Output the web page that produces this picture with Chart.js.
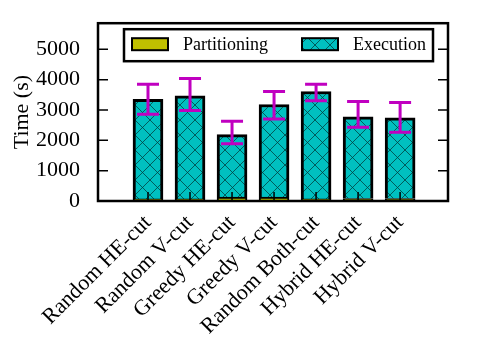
<!DOCTYPE html>
<html>
<head>
<meta charset="utf-8">
<script src="https://cdn.jsdelivr.net/npm/chart.js@4/dist/chart.umd.min.js"></script>
<style>
  html, body { margin: 0; padding: 0; background: #fff; }
  #wrap { width: 498px; height: 341px; }
</style>
</head>
<body>
<div id="wrap"><canvas id="chart" width="498" height="341"></canvas></div>
<script>
// Datos
const categorias = ['Random HE-cut', 'Random V-cut', 'Greedy HE-cut', 'Greedy V-cut',
                    'Random Both-cut', 'Hybrid HE-cut', 'Hybrid V-cut'];
const particion = [70, 70, 130, 130, 70, 80, 80];
const ejecucion = [3280, 3400, 2060, 3050, 3540, 2696, 2664];
const errorAlto = [3846, 4040, 2630, 3610, 3846, 3280, 3250];
const errorBajo = [2862, 2980, 1890, 2700, 3300, 2430, 2265];
const ticksY = [0, 1000, 2000, 3000, 4000, 5000];

const fuente = 'Liberation Serif';

// Patron cuadriculado para Execution
function crearPatron() {
    const c = document.createElement('canvas');
    c.width = 15; c.height = 15;
    const g = c.getContext('2d');
    g.fillStyle = '#00c0c0';
    g.fillRect(0, 0, 15, 15);
    g.strokeStyle = 'rgba(0,60,60,0.85)';
    g.lineWidth = 0.9;
    g.beginPath();
    g.moveTo(0, 0); g.lineTo(15, 15);
    g.moveTo(15, 0); g.lineTo(0, 15);
    g.stroke();
    return document.getElementById('chart').getContext('2d').createPattern(c, 'repeat');
}
const patron = crearPatron();

// Marco, ticks hacia adentro, barras de error y leyenda
const extras = {
    id: 'extras',
    afterDatasetsDraw(chart) {
        const ctx = chart.ctx;
        const a = chart.chartArea;
        const x = chart.scales.x, y = chart.scales.y;
        ctx.save();

        // barras de error
        ctx.strokeStyle = '#c000c0';
        ctx.lineWidth = 3;
        categorias.forEach((c, i) => {
            const px = x.getPixelForValue(i);
            const top = y.getPixelForValue(errorAlto[i]);
            const bot = y.getPixelForValue(errorBajo[i]);
            ctx.beginPath();
            ctx.moveTo(px, top); ctx.lineTo(px, bot);
            ctx.moveTo(px - 11, top); ctx.lineTo(px + 11, top);
            ctx.moveTo(px - 11, bot); ctx.lineTo(px + 11, bot);
            ctx.stroke();
        });

        // ticks
        ctx.strokeStyle = '#000';
        ctx.lineWidth = 1.5;
        ctx.beginPath();
        ticksY.forEach(v => {
            const py = y.getPixelForValue(v);
            ctx.moveTo(a.left, py); ctx.lineTo(a.left + 10, py);
            ctx.moveTo(a.right, py); ctx.lineTo(a.right - 10, py);
        });
        categorias.forEach((c, i) => {
            const px = x.getPixelForValue(i);
            ctx.moveTo(px, a.bottom); ctx.lineTo(px, a.bottom - 9);
        });
        ctx.stroke();

        // marco
        ctx.lineWidth = 2.5;
        ctx.strokeRect(a.left, a.top, a.right - a.left, a.bottom - a.top);

        // leyenda
        const lx = a.left + 26, ly = a.top + 6;
        ctx.lineWidth = 2.5;
        ctx.fillStyle = '#fff';
        ctx.fillRect(lx, ly, 309, 32);
        ctx.strokeRect(lx, ly, 309, 32);
        const items = chart.data.datasets;
        const posiciones = [lx + 8, lx + 178];
        ctx.font = '18px "' + fuente + '"';
        ctx.textBaseline = 'middle';
        items.forEach((d, k) => {
            const sx = posiciones[k];
            ctx.fillStyle = d.backgroundColor;
            ctx.fillRect(sx, ly + 9, 36, 12);
            ctx.lineWidth = 2;
            ctx.strokeRect(sx, ly + 9, 36, 12);
            ctx.fillStyle = '#000';
            ctx.fillText(d.label, sx + 51, ly + 16);
        });
        ctx.restore();
    }
};

new Chart(document.getElementById('chart'), {
    type: 'bar',
    data: {
        datasets: [{
            label: 'Partitioning',
            data: particion.map((v, i) => ({ x: i, y: v })),
            backgroundColor: '#c0c000',
            borderColor: '#000',
            borderWidth: 2,
            borderSkipped: 'start',
            barThickness: 30
        }, {
            label: 'Execution',
            data: ejecucion.map((v, i) => ({ x: i, y: v })),
            backgroundColor: patron,
            borderColor: '#000',
            borderWidth: 3,
            borderSkipped: 'start',
            barThickness: 30
        }]
    },
    options: {
        responsive: false,
        animation: false,
        layout: { padding: { left: 0, top: 17, right: 50, bottom: 0 } },
        plugins: { legend: { display: false }, tooltip: { enabled: false } },
        scales: {
            x: {
                type: 'linear',
                stacked: true,
                offset: false,
                min: -1.19,
                max: 7.14,
                grid: { display: false, offset: false },
                border: { display: false },
                afterBuildTicks: s => { s.ticks = categorias.map((c, i) => ({ value: i })); },
                afterFit: s => { s.height = 140; },
                ticks: {
                    autoSkip: false,
                    minRotation: 45,
                    maxRotation: 45,
                    padding: 1,
                    color: '#000',
                    font: { family: fuente, size: 22 },
                    callback: v => categorias[v]
                }
            },
            y: {
                stacked: true,
                min: 0,
                max: 5860,
                grid: { display: false },
                border: { display: false },
                afterBuildTicks: s => { s.ticks = ticksY.map(v => ({ value: v })); },
                afterFit: s => { s.width = 98; },
                title: {
                    display: true,
                    text: 'Time (s)',
                    color: '#000',
                    font: { family: fuente, size: 22 },
                    padding: { top: 9, bottom: 0 }
                },
                ticks: {
                    padding: 10,
                    color: '#000',
                    font: { family: fuente, size: 22 },
                    callback: v => String(v)
                }
            }
        }
    },
    plugins: [extras]
});
</script>
</body>
</html>
